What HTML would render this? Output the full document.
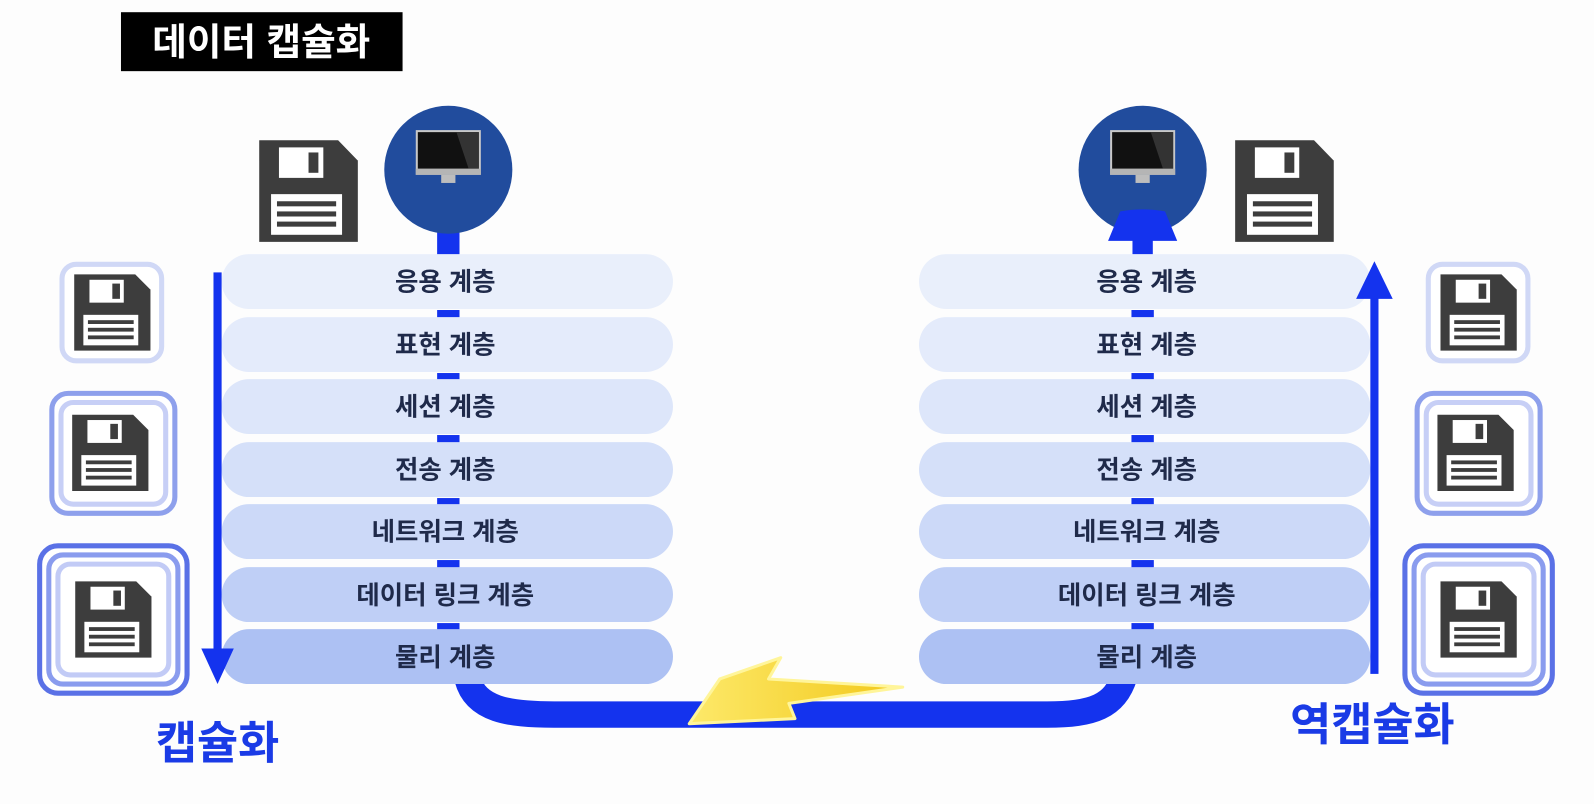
<!DOCTYPE html>
<html><head><meta charset="utf-8"><style>
html,body{margin:0;padding:0;background:#fdfdfd;}
svg{display:block}
text{font-family:"Liberation Sans","Noto Sans CJK KR","NanumGothic",sans-serif;font-weight:bold}
</style></head><body>
<svg width="1594" height="804" viewBox="0 0 1568 791" preserveAspectRatio="none" xmlns="http://www.w3.org/2000/svg">
<defs>
<g id="fl">
<path d="M0 0H80L100 20V100H0Z" fill="#3d3d3d"/>
<rect x="20" y="7" width="45" height="30" fill="#fff"/>
<rect x="50" y="12" width="10" height="20" fill="#3d3d3d"/>
<rect x="12" y="53" width="72" height="40" fill="#fff"/>
<rect x="18" y="60" width="60" height="5" fill="#3d3d3d"/>
<rect x="18" y="70" width="60" height="5" fill="#3d3d3d"/>
<rect x="18" y="80" width="60" height="5" fill="#3d3d3d"/>
</g>
<g id="mon">
<rect x="-32" y="-32" width="64" height="44" fill="#c8c8c8"/>
<rect x="-30" y="-30" width="60" height="36" fill="#111"/>
<path d="M8 -30 H30 V6 H20Z" fill="#333"/>
<rect x="-32" y="6" width="64" height="6" fill="#b5b5b5"/>
<rect x="-7" y="12" width="14" height="8" fill="#bdbdbd"/>
</g>
<linearGradient id="lg" x1="0" y1="0" x2="1" y2="0"><stop offset="0" stop-color="#fde96a"/><stop offset="1" stop-color="#f2c81a"/></linearGradient>
</defs>

<rect x="119" y="12" width="277" height="58" fill="#000"/>
<text x="257" y="54" font-size="37" fill="#fff" text-anchor="middle">데이터 캡슐화</text>

<path d="M458 640 L460 668 C468 698 500 703 545 703 L1030 703 C1075 703 1097 695 1106 665" fill="none" stroke="#1433ee" stroke-width="26"/>

<g>
<rect x="430" y="225" width="22" height="30" fill="#1433ee"/>
<rect x="218" y="250" width="444" height="54" rx="27" fill="#e9effb"/>
<rect x="218" y="312" width="444" height="54" rx="27" fill="#e4ebfb"/>
<rect x="218" y="373" width="444" height="54" rx="27" fill="#dde6fa"/>
<rect x="218" y="435" width="444" height="54" rx="27" fill="#d5e0f9"/>
<rect x="218" y="496" width="444" height="54" rx="27" fill="#ccd9f8"/>
<rect x="218" y="558" width="444" height="54" rx="27" fill="#bfcff6"/>
<rect x="218" y="619" width="444" height="54" rx="27" fill="#adc1f3"/>
<g fill="#1433ee"><rect x="430" y="305" width="22" height="7"/><rect x="430" y="367" width="22" height="6"/><rect x="430" y="428" width="22" height="7"/><rect x="430" y="490" width="22" height="6"/><rect x="430" y="551" width="22" height="7"/><rect x="430" y="613" width="22" height="6"/></g>
<g font-size="25" fill="#1f2a4a" text-anchor="middle">
<text x="438" y="286">응용 계층</text><text x="438" y="348">표현 계층</text><text x="438" y="409">세션 계층</text><text x="438" y="471">전송 계층</text><text x="438" y="532">네트워크 계층</text><text x="438" y="594">데이터 링크 계층</text><text x="438" y="655">물리 계층</text>
</g>
</g>

<g>
<rect x="904" y="250" width="444" height="54" rx="27" fill="#e9effb"/>
<rect x="904" y="312" width="444" height="54" rx="27" fill="#e4ebfb"/>
<rect x="904" y="373" width="444" height="54" rx="27" fill="#dde6fa"/>
<rect x="904" y="435" width="444" height="54" rx="27" fill="#d5e0f9"/>
<rect x="904" y="496" width="444" height="54" rx="27" fill="#ccd9f8"/>
<rect x="904" y="558" width="444" height="54" rx="27" fill="#bfcff6"/>
<rect x="904" y="619" width="444" height="54" rx="27" fill="#adc1f3"/>
<g fill="#1433ee"><rect x="1113" y="305" width="22" height="7"/><rect x="1113" y="367" width="22" height="6"/><rect x="1113" y="428" width="22" height="7"/><rect x="1113" y="490" width="22" height="6"/><rect x="1113" y="551" width="22" height="7"/><rect x="1113" y="613" width="22" height="6"/></g>
<g font-size="25" fill="#1f2a4a" text-anchor="middle">
<text x="1128" y="286">응용 계층</text><text x="1128" y="348">표현 계층</text><text x="1128" y="409">세션 계층</text><text x="1128" y="471">전송 계층</text><text x="1128" y="532">네트워크 계층</text><text x="1128" y="594">데이터 링크 계층</text><text x="1128" y="655">물리 계층</text>
</g>
</g>

<circle cx="441" cy="167" r="63" fill="#214c9d"/>
<use href="#mon" x="441" y="160"/>
<circle cx="1124" cy="167" r="63" fill="#214c9d"/>
<use href="#mon" x="1124" y="160"/>
<path d="M1102 208 Q1124 204 1146 208 L1158 237 H1134 V250 H1114 V237 H1090Z" fill="#1433ee"/>

<use href="#fl" transform="translate(255,138) scale(0.97,1)"/>
<use href="#fl" transform="translate(1215,138) scale(0.97,1)"/>

<rect x="210" y="268" width="8" height="380" fill="#1433ee"/>
<path d="M198 638 H230 L214 673Z" fill="#1433ee"/>
<rect x="1348" y="285" width="8" height="378" fill="#1433ee"/>
<path d="M1334 294 H1370 L1352 257Z" fill="#1433ee"/>

<rect x="61" y="260" width="98" height="95" rx="14" fill="#fff" stroke="#d0d8f6" stroke-width="5"/>
<use href="#fl" transform="translate(73,270) scale(0.75)"/>
<rect x="51" y="387" width="121" height="118" rx="16" fill="#fff" stroke="#8ea0ec" stroke-width="5"/>
<rect x="60" y="396" width="103" height="100" rx="12" fill="#fff" stroke="#c7cff6" stroke-width="5"/>
<use href="#fl" transform="translate(71,408) scale(0.75)"/>
<rect x="39" y="537" width="145" height="145" rx="18" fill="#fff" stroke="#5a71e6" stroke-width="5"/>
<rect x="48" y="546" width="127" height="127" rx="14" fill="#fff" stroke="#8a9cee" stroke-width="5"/>
<rect x="57" y="555" width="109" height="109" rx="12" fill="#fff" stroke="#c2cbf6" stroke-width="5"/>
<use href="#fl" transform="translate(74,572) scale(0.75)"/>

<rect x="1405" y="260" width="98" height="95" rx="14" fill="#fff" stroke="#d0d8f6" stroke-width="5"/>
<use href="#fl" transform="translate(1417,270) scale(0.75)"/>
<rect x="1394" y="387" width="121" height="118" rx="16" fill="#fff" stroke="#8ea0ec" stroke-width="5"/>
<rect x="1403" y="396" width="103" height="100" rx="12" fill="#fff" stroke="#c7cff6" stroke-width="5"/>
<use href="#fl" transform="translate(1414,408) scale(0.75)"/>
<rect x="1382" y="537" width="145" height="145" rx="18" fill="#fff" stroke="#5a71e6" stroke-width="5"/>
<rect x="1391" y="546" width="127" height="127" rx="14" fill="#fff" stroke="#8a9cee" stroke-width="5"/>
<rect x="1400" y="555" width="109" height="109" rx="12" fill="#fff" stroke="#c2cbf6" stroke-width="5"/>
<use href="#fl" transform="translate(1417,572) scale(0.75)"/>

<path d="M678 712 L708 668 L768 647 L756 668 L888 676 L776 692 L782 707 Z" fill="url(#lg)" stroke="#fff59a" stroke-width="3" stroke-linejoin="round"/>

<text x="214" y="746" font-size="44" fill="#1a3be6" text-anchor="middle">캡슐화</text>
<text x="1350" y="728" font-size="44" fill="#1a3be6" text-anchor="middle">역캡슐화</text>
</svg>
</body></html>
